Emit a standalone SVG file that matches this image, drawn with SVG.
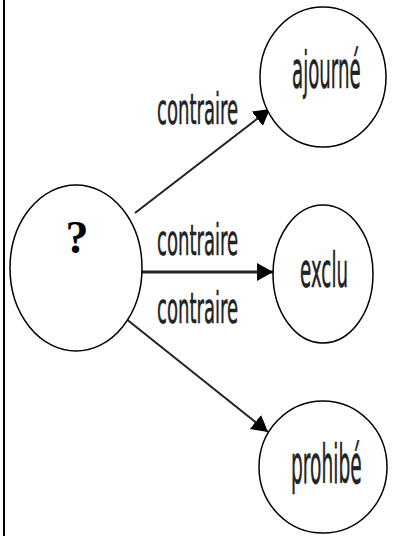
<svg xmlns="http://www.w3.org/2000/svg" width="394" height="536" viewBox="0 0 394 536">
<defs>
<style>
.node{fill:#fff;stroke:#000;stroke-width:1.5}
.edge{stroke:#222;stroke-width:2;fill:none}
.lbl{font-family:"DejaVu Sans",sans-serif;fill:#222;stroke:#222;stroke-width:0.6}
.q{font-family:"Liberation Serif",serif;font-weight:bold;fill:#000}
</style>
<marker id="arr" markerUnits="userSpaceOnUse" markerWidth="18" markerHeight="20" refX="16" refY="9" orient="auto" viewBox="0 0 18 20">
<path d="M0,0 L16,9 L0,18 Z" fill="#000"/>
</marker>
</defs>
<rect x="3" y="0" width="2" height="536" fill="#000"/>
<g id="connectors">
<path class="edge" d="M135,213 L270,109" marker-end="url(#arr)"/>
<path class="edge" d="M142,272 L273,272" marker-end="url(#arr)" style="stroke-width:3"/>
<path class="edge" d="M125,318 L268,432" marker-end="url(#arr)"/>
<text class="lbl" font-size="43" transform="translate(157,124) scale(0.42,1)">contraire</text>
<text class="lbl" font-size="43" transform="translate(157,255) scale(0.42,1)">contraire</text>
<text class="lbl" font-size="43" transform="translate(157,323) scale(0.42,1)">contraire</text>
</g>
<g id="n-question">
<ellipse class="node" cx="76" cy="268" rx="66" ry="83"/>
<text class="q" x="77" y="253" font-size="46" text-anchor="middle">?</text>
</g>
<g id="n-ajourne">
<ellipse class="node" cx="323" cy="77" rx="63" ry="70"/>
<text class="lbl" font-size="52" transform="translate(292,88) scale(0.35,1)">ajourné</text>
</g>
<g id="n-exclu">
<ellipse class="node" cx="323" cy="274" rx="50" ry="69"/>
<text class="lbl" font-size="48" transform="translate(300,287) scale(0.38,1)">exclu</text>
</g>
<g id="n-prohibe">
<ellipse class="node" cx="323" cy="467" rx="64" ry="66"/>
<text class="lbl" font-size="54" transform="translate(291,483) scale(0.345,1)">prohibé</text>
</g>
</svg>
